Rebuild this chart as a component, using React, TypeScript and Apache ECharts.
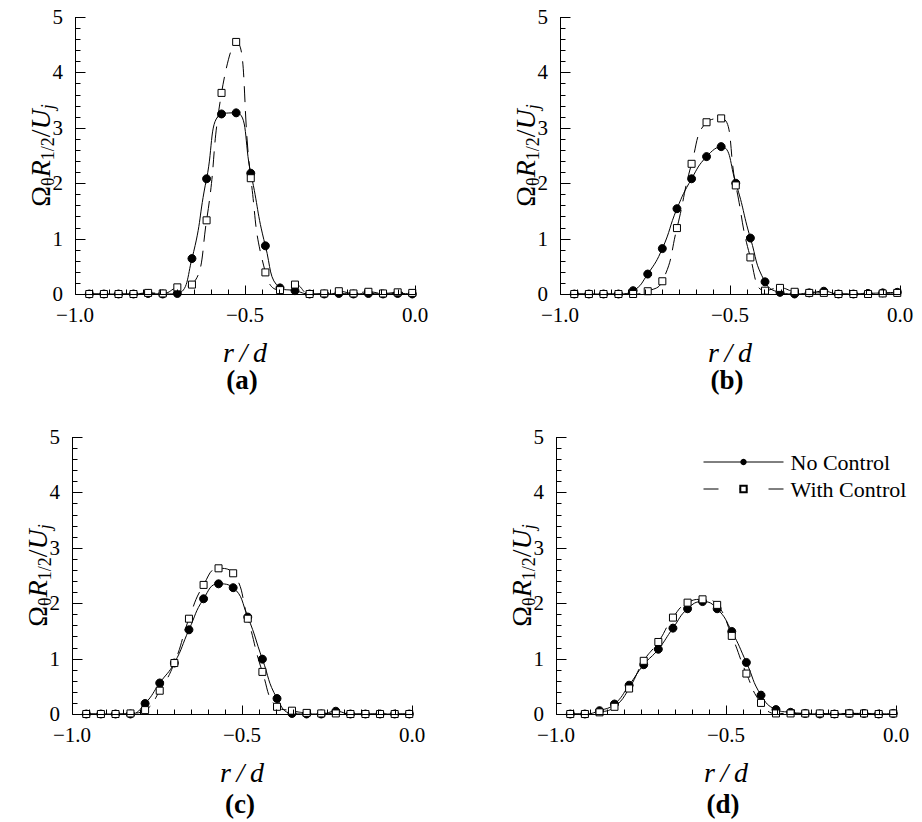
import React, { useEffect, useRef } from "react";
import * as echarts from "echarts";

// radial positions r/d of the measurement stations
const rValues = [
  -0.958, -0.915, -0.872, -0.828, -0.785, -0.742, -0.699, -0.656, -0.613, -0.569, -0.526, -0.483,
  -0.44, -0.397, -0.353, -0.31, -0.267, -0.224, -0.181, -0.137, -0.094, -0.051, -0.008,
];

const aNoControl = [0, 0, 0, 0, 0.01, 0, 0.01, 0.64, 2.08, 3.25, 3.27, 2.18, 0.87, 0.11, 0.06, 0, 0, 0.01, 0, 0.01, 0, 0.01, 0];
const aWithControl = [0, 0, 0, 0, 0.02, 0.01, 0.12, 0.17, 1.33, 3.63, 4.55, 2.09, 0.39, 0.07, 0.17, 0, 0.01, 0.05, 0.01, 0.04, 0.01, 0.03, 0.02];

const bNoControl = [0, 0, 0, 0, 0.06, 0.36, 0.82, 1.54, 2.08, 2.48, 2.66, 2.0, 1.01, 0.22, 0.03, 0, 0.02, 0.05, 0, 0, 0.01, 0.02, 0.03];
const bWithControl = [0, 0, 0, 0, 0, 0.05, 0.23, 1.19, 2.35, 3.1, 3.17, 1.96, 0.66, 0.06, 0.11, 0.04, 0.02, 0.02, 0, 0, 0, 0.01, 0.02];

const cNoControl = [0, 0, 0, 0, 0.19, 0.56, 0.92, 1.52, 2.08, 2.35, 2.28, 1.75, 0.99, 0.28, 0.01, 0, 0, 0.05, 0, 0, 0, 0, 0];
const cWithControl = [0, 0, 0, 0.01, 0.07, 0.42, 0.92, 1.72, 2.33, 2.63, 2.54, 1.72, 0.76, 0.13, 0.06, 0.02, 0.01, 0.01, 0, 0, 0, 0, 0];

const dNoControl = [0, 0, 0.06, 0.18, 0.52, 0.89, 1.17, 1.55, 1.9, 2.03, 1.9, 1.49, 0.93, 0.34, 0.08, 0.03, 0.01, 0, 0, 0.01, 0.01, 0, 0.01];
const dWithControl = [0, 0, 0.03, 0.13, 0.46, 0.96, 1.3, 1.74, 2.01, 2.07, 1.97, 1.41, 0.73, 0.2, 0.01, 0.01, 0.01, 0.01, 0, 0.01, 0.01, 0, 0.01];

const panelLabels = ["(a)", "(b)", "(c)", "(d)"];
const seriesNames = ["No Control", "With Control"];
const xTickLabels: Record<string, string> = { "-1": "\u22121.0", "-0.5": "\u22120.5", "0": "0.0" };

const FONT = "Liberation Serif";

const panels = [
  { no: aNoControl, withC: aWithControl, grid: { left: 75, top: 17 }, label: { x: 242, y: 380 } },
  { no: bNoControl, withC: bWithControl, grid: { left: 560, top: 17 }, label: { x: 727, y: 380 } },
  { no: cNoControl, withC: cWithControl, grid: { left: 72, top: 437 }, label: { x: 240, y: 804 } },
  { no: dNoControl, withC: dWithControl, grid: { left: 556, top: 437 }, label: { x: 723, y: 804 } },
];

const pair = (ys: number[]) => ys.map((y, i) => [rValues[i], y]);

export default function App() {
  const ref = useRef<HTMLDivElement>(null);
  useEffect(() => {
    document.body.style.margin = "0";
    if (!ref.current) return;
    const chart = echarts.init(ref.current, null, { renderer: "svg" });

    const grids: any[] = [];
    const xAxes: any[] = [];
    const yAxes: any[] = [];
    const series: any[] = [];

    panels.forEach((p, k) => {
      grids.push({ left: p.grid.left, top: p.grid.top, width: 340, height: 277 });
      xAxes.push({
        type: "value",
        gridIndex: k,
        position: "bottom",
        min: -1,
        max: 0,
        interval: 0.5,
        name: "r\u2009/\u2009d",
        nameLocation: "middle",
        nameGap: 44,
        nameTextStyle: { fontFamily: FONT, fontSize: 28, fontStyle: "italic", color: "#000" },
        axisLine: { show: false, onZero: false },
        axisTick: { show: false },
        minorTick: { show: false },
        splitLine: { show: false },
        axisLabel: {
          show: true,
          fontFamily: FONT,
          fontSize: 21,
          color: "#000",
          margin: 10,
          formatter: (v: number) => xTickLabels[String(v)] ?? String(v),
        },
      });
      yAxes.push({
        type: "value",
        gridIndex: k,
        position: "left",
        min: 0,
        max: 5,
        interval: 1,
        name: "{o|\u03A9}{s|\u03B8}{i|R}{s|1/2}{o|/}{i|U}{si|j}",
        nameLocation: "middle",
        nameRotate: 90,
        nameGap: 18,
        nameMoveOverlap: false,
        nameTextStyle: {
          fontFamily: FONT,
          fontSize: 28,
          color: "#000",
          rich: {
            o: { fontFamily: FONT, fontSize: 28, lineHeight: 34, color: "#000" },
            i: { fontFamily: FONT, fontSize: 28, fontStyle: "italic", lineHeight: 34, color: "#000" },
            s: { fontFamily: FONT, fontSize: 18, lineHeight: 16, verticalAlign: "bottom", color: "#000" },
            si: { fontFamily: FONT, fontSize: 18, fontStyle: "italic", lineHeight: 16, verticalAlign: "bottom", color: "#000" },
          },
        },
        axisLine: { show: false, onZero: false },
        axisTick: { show: false },
        minorTick: { show: false },
        splitLine: { show: false },
        axisLabel: { show: true, fontFamily: FONT, fontSize: 21, color: "#000", margin: 12 },
      });
      series.push({
        name: seriesNames[0],
        type: "line",
        xAxisIndex: k,
        yAxisIndex: k,
        data: pair(p.no),
        smooth: 0.5,
        symbol: "circle",
        symbolSize: 8,
        itemStyle: { color: "#000", borderColor: "#000" },
        lineStyle: { color: "#000", width: 1 },
        z: 2,
      });
      series.push({
        name: seriesNames[1],
        type: "line",
        xAxisIndex: k,
        yAxisIndex: k,
        data: pair(p.withC),
        smooth: 0.5,
        symbol: "rect",
        symbolSize: 7,
        itemStyle: { color: "#fff", borderColor: "#000", borderWidth: 1 },
        lineStyle: { color: "#000", width: 1, type: [16, 9] },
        z: 3,
      });
    });

    chart.setOption({
      animation: false,
      backgroundColor: "#fff",
      grid: grids,
      xAxis: xAxes,
      yAxis: yAxes,
      series,
      legend: {
        orient: "vertical",
        left: 698,
        top: 446,
        itemWidth: 80,
        itemHeight: 8,
        itemGap: 5,
        selectedMode: false,
        textStyle: { fontFamily: FONT, fontSize: 22, color: "#000", padding: [0, 0, 0, 2] },
        data: [
          { name: seriesNames[0], lineStyle: { type: "solid", width: 1 } },
          { name: seriesNames[1], lineStyle: { type: [15, 21, 8, 21], width: 1 } },
        ],
      },
    });

    // axis lines and inward ticks, positioned through the grids' own scales
    const graphics: any[] = [];
    const lineStyle = { stroke: "#000", lineWidth: 1 };
    const seg = (x1: number, y1: number, x2: number, y2: number) => ({
      type: "line",
      silent: true,
      z: 5,
      shape: { x1, y1, x2, y2 },
      style: lineStyle,
    });
    panels.forEach((p, k) => {
      const px = (x: number, y: number) => chart.convertToPixel({ gridIndex: k } as any, [x, y]) as number[];
      const origin = px(-1, 0);
      const right = px(0, 0);
      const top = px(-1, 5);
      const X0 = Math.round(origin[0]) + 0.5;
      const Y0 = Math.round(origin[1]) + 0.5;
      graphics.push(seg(X0, Math.round(top[1]), X0, Y0));
      graphics.push(seg(X0, Y0, Math.round(right[0]) + 0.5, Y0));
      for (let i = 0; i <= 25; i++) {
        const py = Math.round(px(-1, i * 0.2)[1]) + 0.5;
        const len = i % 5 === 0 ? 10 : 5;
        graphics.push(seg(X0, py, X0 + len, py));
      }
      for (let i = 0; i <= 20; i++) {
        const pxx = Math.round(px(-1 + i * 0.05, 0)[0]) + 0.5;
        const len = i % 10 === 0 ? 9 : 5;
        graphics.push(seg(pxx, Y0, pxx, Y0 - len));
      }
      graphics.push({
        type: "text",
        x: p.label.x,
        y: p.label.y,
        style: {
          text: panelLabels[k],
          font: `bold 27px ${FONT}`,
          fill: "#000",
          textAlign: "center",
          textVerticalAlign: "middle",
        },
      });
    });
    chart.setOption({ graphic: graphics });

    return () => chart.dispose();
  }, []);
  return <div ref={ref} style={{ width: 922, height: 822 }} />;
}
